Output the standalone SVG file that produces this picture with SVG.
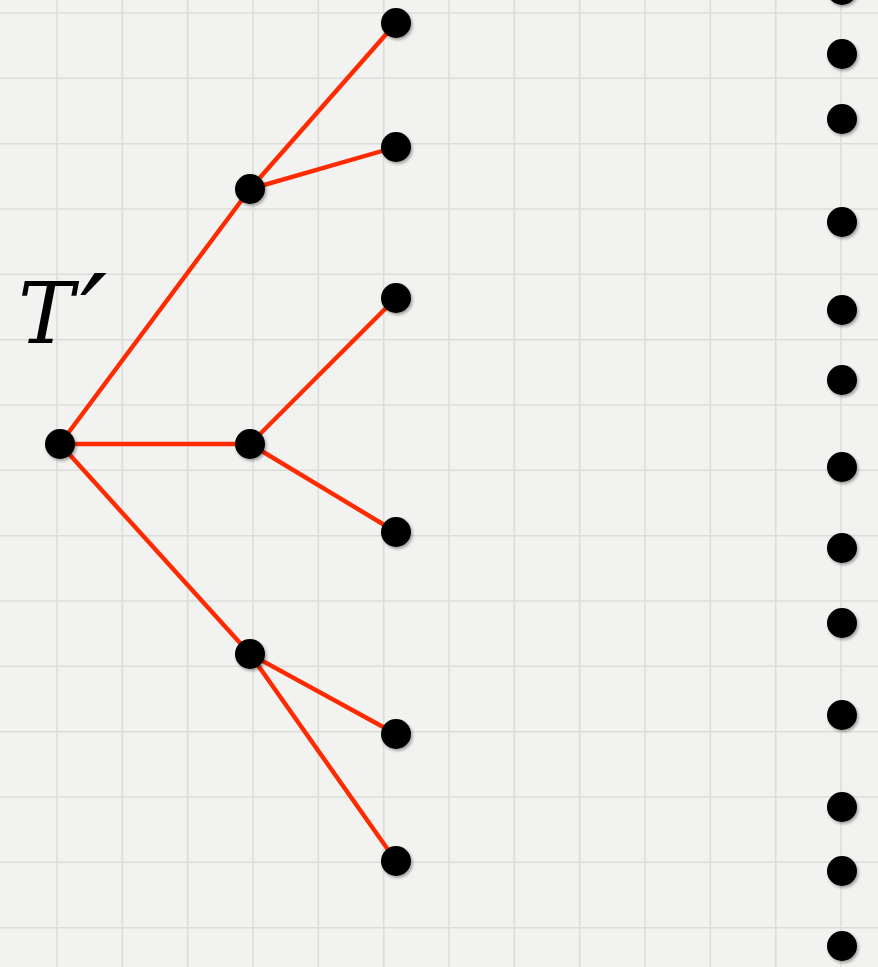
<svg xmlns="http://www.w3.org/2000/svg" width="878" height="967" viewBox="0 0 878 967">
<style>
.grid line{stroke:#dcdcda;stroke-width:1.6}
.edges line{stroke:#ff2a00;stroke-width:4.4;stroke-linecap:round}
.dot{fill:#000;filter:url(#sh)}
.lbl{font-family:"DejaVu Serif","Liberation Serif",serif;font-style:italic;fill:#000}
</style>
<defs>
<filter id="sh" x="-50%" y="-50%" width="200%" height="200%">
<feDropShadow dx="1.5" dy="2" stdDeviation="1.5" flood-color="#000" flood-opacity="0.35"/>
</filter>
</defs>
<rect width="878" height="967" fill="#f2f2f0"/>
<g class="grid">
<line x1="57" y1="0" x2="57" y2="967"/>
<line x1="122.3" y1="0" x2="122.3" y2="967"/>
<line x1="187.7" y1="0" x2="187.7" y2="967"/>
<line x1="253" y1="0" x2="253" y2="967"/>
<line x1="318.3" y1="0" x2="318.3" y2="967"/>
<line x1="383.7" y1="0" x2="383.7" y2="967"/>
<line x1="449" y1="0" x2="449" y2="967"/>
<line x1="514.3" y1="0" x2="514.3" y2="967"/>
<line x1="579.7" y1="0" x2="579.7" y2="967"/>
<line x1="645" y1="0" x2="645" y2="967"/>
<line x1="710.3" y1="0" x2="710.3" y2="967"/>
<line x1="775.7" y1="0" x2="775.7" y2="967"/>
<line x1="841" y1="0" x2="841" y2="967"/>
<line x1="0" y1="13" x2="878" y2="13"/>
<line x1="0" y1="78.3" x2="878" y2="78.3"/>
<line x1="0" y1="143.7" x2="878" y2="143.7"/>
<line x1="0" y1="209" x2="878" y2="209"/>
<line x1="0" y1="274.3" x2="878" y2="274.3"/>
<line x1="0" y1="339.7" x2="878" y2="339.7"/>
<line x1="0" y1="405" x2="878" y2="405"/>
<line x1="0" y1="470.3" x2="878" y2="470.3"/>
<line x1="0" y1="535.7" x2="878" y2="535.7"/>
<line x1="0" y1="601" x2="878" y2="601"/>
<line x1="0" y1="666.3" x2="878" y2="666.3"/>
<line x1="0" y1="731.7" x2="878" y2="731.7"/>
<line x1="0" y1="797" x2="878" y2="797"/>
<line x1="0" y1="862.3" x2="878" y2="862.3"/>
<line x1="0" y1="927.7" x2="878" y2="927.7"/>
</g>
<g id="connectors" class="edges">
<line x1="60" y1="444" x2="250" y2="189"/>
<line x1="60" y1="444" x2="250" y2="444"/>
<line x1="60" y1="444" x2="250" y2="654"/>
<line x1="250" y1="189" x2="396" y2="23"/>
<line x1="250" y1="189" x2="396" y2="147"/>
<line x1="250" y1="444" x2="396" y2="298"/>
<line x1="250" y1="444" x2="396" y2="532"/>
<line x1="250" y1="654" x2="396" y2="734"/>
<line x1="250" y1="654" x2="396" y2="861"/>
</g>
<g id="label"><text class="lbl" x="18" y="343" font-size="84">T<tspan font-size="120" dx="6" dy="18">′</tspan></text></g>
<g id="root"><circle class="dot" cx="60" cy="444" r="15"/></g>
<g id="m1"><circle class="dot" cx="250" cy="189" r="15"/></g>
<g id="m2"><circle class="dot" cx="250" cy="444" r="15"/></g>
<g id="m3"><circle class="dot" cx="250" cy="654" r="15"/></g>
<g id="l1"><circle class="dot" cx="396" cy="23" r="15"/></g>
<g id="l2"><circle class="dot" cx="396" cy="147" r="15"/></g>
<g id="l3"><circle class="dot" cx="396" cy="298" r="15"/></g>
<g id="l4"><circle class="dot" cx="396" cy="532" r="15"/></g>
<g id="l5"><circle class="dot" cx="396" cy="734" r="15"/></g>
<g id="l6"><circle class="dot" cx="396" cy="861" r="15"/></g>
<g id="r0"><circle class="dot" cx="842" cy="-10" r="15"/></g>
<g id="r1"><circle class="dot" cx="842" cy="54" r="15"/></g>
<g id="r2"><circle class="dot" cx="842" cy="119" r="15"/></g>
<g id="r3"><circle class="dot" cx="842" cy="222" r="15"/></g>
<g id="r4"><circle class="dot" cx="842" cy="310" r="15"/></g>
<g id="r5"><circle class="dot" cx="842" cy="380" r="15"/></g>
<g id="r6"><circle class="dot" cx="842" cy="467" r="15"/></g>
<g id="r7"><circle class="dot" cx="842" cy="548" r="15"/></g>
<g id="r8"><circle class="dot" cx="842" cy="623" r="15"/></g>
<g id="r9"><circle class="dot" cx="842" cy="715" r="15"/></g>
<g id="r10"><circle class="dot" cx="842" cy="807" r="15"/></g>
<g id="r11"><circle class="dot" cx="842" cy="871" r="15"/></g>
<g id="r12"><circle class="dot" cx="842" cy="946" r="15"/></g>
</svg>
